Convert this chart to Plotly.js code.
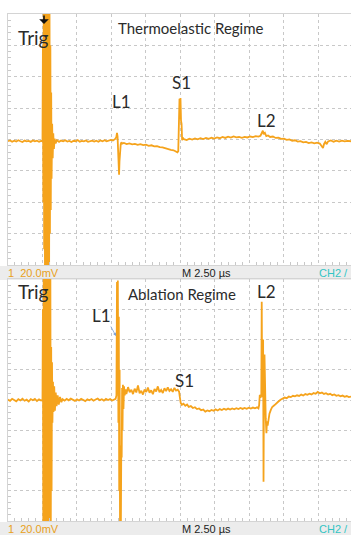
<!DOCTYPE html>
<html>
<head>
<meta charset="utf-8">
<script src="https://cdn.plot.ly/plotly-3.0.1.min.js"></script>
<style>html,body{margin:0;padding:0;background:#fff;}#chart{width:351px;height:535px;}</style>
</head>
<body>
<div id="chart"></div>
<script>
// Time axis in microseconds (2.50 us/div), voltage in mV (20.0 mV/div)
const topTime = [0.00,0.15,0.30,0.45,0.60,0.75,0.90,1.05,1.20,1.35,1.50,1.65,1.80,1.95,2.10,2.25,2.40,
 2.50,2.53,2.56,2.59,2.62,2.65,2.68,2.71,2.74,2.77,2.80,2.83,2.86,2.89,2.92,2.95,2.98,3.01,3.04,3.07,3.10,3.13,3.16,3.20,3.24,3.28,3.33,3.38,3.45,
 3.55,3.70,3.85,4.00,4.15,4.30,4.45,4.60,4.75,4.90,5.05,5.20,5.35,5.50,5.65,5.80,5.95,6.10,6.25,6.40,6.55,6.70,6.85,7.00,7.15,7.30,7.45,7.60,7.75,
 7.85,7.90,7.94,7.98,8.02,8.05,8.08,8.12,8.17,8.22,8.28,
 8.40,8.60,8.80,9.00,9.20,9.40,9.60,9.80,10.00,10.20,10.40,10.60,10.80,11.00,11.20,11.40,11.60,11.80,12.00,12.15,12.28,
 12.34,12.36,12.40,12.43,12.47,12.50,12.54,12.58,12.62,12.66,
 12.75,12.95,13.15,13.35,13.55,13.75,13.95,14.15,14.35,14.55,14.75,14.95,15.15,15.35,15.55,15.75,15.95,16.15,16.35,16.55,16.75,16.95,17.15,17.35,17.55,17.75,17.95,18.15,18.30,
 18.40,18.47,18.53,18.62,18.72,18.85,
 19.00,19.20,19.40,19.60,19.80,20.00,20.20,20.40,20.60,20.80,21.00,21.20,21.40,21.60,21.80,22.00,22.20,22.40,22.60,
 22.75,22.83,22.90,23.00,23.10,23.20,23.40,23.60,23.80,24.00,24.20,24.40,24.60,24.86];
const topVolt = [-1.0,-0.6,-1.4,-0.8,-1.3,-0.5,-1.1,-1.6,-0.7,-1.2,-0.9,-1.5,-0.6,-1.2,-0.8,-1.4,-0.9,
 -1,60,-40,92,-70,95,-92,95,-95,95,-95,95,-95,92,-92,88,-85,80,-60,60,-45,30,-25,10,-12,4,-6,0.5,-2.5,
 -0.4,-1.5,-0.7,-1.2,-0.5,-1.3,-0.9,-1.6,-0.8,-1.1,-0.4,-1.4,-0.9,-1.2,-0.6,-1.5,-1.0,-0.7,-1.3,-0.8,-1.4,-0.6,-1.1,-0.5,-1.2,-0.7,-0.3,-0.6,0.2,
 1.5,4.2,2,-8,-18,-22.5,-14,-6,-3,-1.8,-2.6,
 -2.2,-2.9,-2.5,-3.1,-2.8,-3.4,-3.0,-3.6,-3.3,-4.0,-3.7,-4.4,-4.2,-4.9,-5.0,-5.6,-5.9,-6.6,-6.9,-7.6,-8.2,
 -7.5,9,11,26,13,26.5,12,10,-0.5,1.2,
 0.2,-0.4,0.5,0.0,0.7,0.1,0.8,0.3,1.0,0.4,1.1,0.6,1.3,0.8,1.6,1.0,1.8,1.2,2.0,1.4,1.6,1.1,1.7,1.3,1.9,1.5,2.1,1.8,2.4,
 4.0,5.6,3.4,4.2,2.2,2.6,
 1.6,1.9,1.0,1.2,0.4,0.6,-0.2,0.1,-0.8,-0.5,-1.3,-1.0,-1.8,-1.5,-2.3,-1.9,-2.5,-2.0,-2.6,
 -4.0,-5.4,-3.0,-1.5,-3.0,-1.2,-0.6,-1.4,-0.8,-1.3,-0.7,-1.2,-0.9,-1.1];

const botTime = [0.00,0.15,0.30,0.45,0.60,0.75,0.90,1.05,1.20,1.35,1.50,1.65,1.80,1.95,2.10,2.25,2.40,
 2.50,2.53,2.56,2.59,2.62,2.65,2.68,2.71,2.74,2.77,2.80,2.83,2.86,2.89,2.92,2.95,2.98,3.01,3.04,3.07,3.10,
 3.13,3.16,3.19,3.22,3.26,3.30,3.35,3.40,3.46,3.52,3.60,3.68,3.77,3.87,
 3.95,4.10,4.25,4.40,4.55,4.70,4.85,5.00,5.15,5.30,5.45,5.60,5.75,5.90,6.05,6.20,6.35,6.50,6.65,6.80,6.95,7.10,7.25,7.40,7.55,7.70,7.80,
 7.86,7.90,7.93,7.96,8.00,8.03,8.06,8.09,8.12,8.15,8.18,8.21,8.24,8.27,8.30,8.33,8.37,8.41,8.46,8.52,
 8.58,8.70,8.82,8.94,9.06,9.18,9.30,9.42,9.54,9.66,9.78,9.90,10.02,10.14,10.26,10.38,10.50,10.62,10.74,10.86,10.98,11.10,11.22,11.34,11.46,11.58,11.70,11.82,11.94,12.06,12.18,12.30,
 12.40,12.46,12.52,12.60,12.72,12.85,12.98,13.10,13.25,13.40,13.55,13.70,13.85,14.00,14.15,14.30,14.45,14.60,14.75,14.90,15.05,15.20,15.35,15.50,15.65,15.80,15.95,16.10,16.25,16.40,16.55,16.70,16.85,17.00,17.15,17.30,17.45,17.60,17.75,17.90,18.05,18.15,
 18.20,18.25,18.30,18.36,18.39,18.42,18.46,18.49,18.52,18.55,18.59,18.63,18.68,18.73,18.77,18.82,18.88,18.95,19.05,19.15,19.30,19.45,19.60,19.75,19.90,
 20.05,20.20,20.35,20.50,20.65,20.80,20.95,21.10,21.25,21.40,21.55,21.70,21.85,22.00,22.15,22.30,22.45,22.60,22.75,22.90,23.05,23.20,23.35,23.50,23.65,23.80,23.95,24.10,24.25,24.40,24.55,24.70,24.86];
const botVolt = [0.3,-0.6,0.8,0.0,-0.9,0.5,-0.3,0.9,-0.5,0.2,-1.0,0.6,-0.2,0.7,-0.7,0.4,-0.4,
 0,60,-95,95,-95,95,-95,95,-95,95,-95,95,-95,95,-95,95,-95,92,-92,88,-88,
 35,-60,25,-15,12,-8,9,-7,5,-4,3,-3,2,-1.5,
 0.5,-0.4,0.7,-0.2,0.9,0.1,-0.6,0.4,-0.3,0.8,0.0,-0.7,0.5,-0.2,0.6,-0.5,0.3,0.9,-0.1,0.5,-0.4,0.7,0.0,0.6,-0.3,0.4,0.8,
 3,78,12,79,-15,55,-60,20,-85,-40,-85,-30,-38,8,-20,10,-6,9,3,7,
 4.0,8.5,5.2,6.8,3.9,7.5,5.0,9.6,4.4,6.1,3.6,7.0,5.3,8.2,4.8,6.4,3.8,7.3,5.6,9.0,5.1,6.7,4.6,7.8,5.9,8.4,6.0,7.1,5.4,8.0,6.2,6.8,
 5.5,1.5,-2.0,-3.2,-2.4,-3.8,-3.0,-4.5,-4.0,-5.3,-4.8,-6.0,-5.6,-6.8,-6.3,-7.7,-6.9,-7.4,-6.6,-7.1,-6.2,-6.9,-6.0,-6.6,-5.8,-6.4,-5.7,-6.3,-5.6,-6.1,-5.4,-6.0,-5.3,-5.9,-5.2,-5.8,-5.1,-5.6,-5.0,-5.5,-4.9,-5.6,
 -3.5,3.5,1.5,4,65,4,2,40,-54,6,30,-6,-12,-22,-14,-17,-11,-9,-6.5,-4.6,-3.5,-2.0,-1.0,0.2,0.8,
 1.6,1.2,2.3,1.9,2.8,2.4,3.1,2.7,3.6,3.0,3.9,3.4,4.2,3.7,4.6,4.1,5.3,4.4,4.9,4.0,4.5,3.6,4.1,3.2,3.7,2.8,3.2,2.4,2.9,2.1,2.6,1.9,2.3];

const topLabels = [
  {text:'Trig', x:33, y:38, size:19},
  {text:'Thermoelastic Regime', x:191, y:28, size:15},
  {text:'S1', x:181, y:82, size:17},
  {text:'L1', x:121, y:101, size:17},
  {text:'L2', x:266, y:120, size:17}
];
const botLabels = [
  {text:'Trig', x:33, y:291, size:19},
  {text:'Ablation Regime', x:182, y:294, size:15},
  {text:'L2', x:266, y:291, size:17},
  {text:'L1', x:101, y:315, size:17},
  {text:'S1', x:184, y:380, size:17}
];

const W = 351, H = 535;
const px = x => x / W;
const py = y => 1 - y / H;
const orange = '#f5a31c';
const FONT = 'Lato, "Open Sans", sans-serif';

const traces = [
  {x: topTime, y: topVolt, type:'scatter', mode:'lines', xaxis:'x', yaxis:'y',
   line:{color:orange, width:1.8}, hoverinfo:'skip', showlegend:false},
  {x: botTime, y: botVolt, type:'scatter', mode:'lines', xaxis:'x2', yaxis:'y2',
   line:{color:orange, width:1.8}, hoverinfo:'skip', showlegend:false}
];

function xax(anchor){
  return {domain:[px(8),1], range:[0,24.86], anchor:anchor, dtick:2.5, tick0:0,
    showgrid:true, gridcolor:'#c8c8c8', griddash:'dot', gridwidth:1,
    zeroline:false, showticklabels:false, ticks:'inside', ticklen:0,
    showline:true, linecolor:'#d4d4d4', linewidth:1, mirror:true,
    minor:{dtick:0.5, ticks:'inside', ticklen:3, tickcolor:'#c8c8c8', showgrid:false},
    fixedrange:true};
}
function yax(dom, anchor){
  return {domain:dom, range:[-80,80], anchor:anchor, dtick:20, tick0:0,
    showgrid:true, gridcolor:'#c8c8c8', griddash:'dot', gridwidth:1,
    zeroline:false, showticklabels:false, ticks:'inside', ticklen:0,
    showline:true, linecolor:'#d4d4d4', linewidth:1, mirror:true,
    minor:{dtick:4, ticks:'inside', ticklen:3, tickcolor:'#c8c8c8', showgrid:false},
    fixedrange:true};
}

const annotations = [];
topLabels.concat(botLabels).forEach(l => annotations.push({
  xref:'paper', yref:'paper', x:px(l.x), y:py(l.y), text:l.text, showarrow:false,
  xanchor:'center', yanchor:'middle', font:{family:FONT, size:l.size, color:'#2b2b2b'}
}));
// scope status rows
[273, 529].forEach(yy => {
  annotations.push({xref:'paper', yref:'paper', x:px(6), y:py(yy), text:'1  20.0mV', showarrow:false,
    xanchor:'left', yanchor:'middle', font:{family:'Arial, "Liberation Sans", sans-serif', size:11, color:'#e8a020'}});
  annotations.push({xref:'paper', yref:'paper', x:px(180), y:py(yy), text:'M 2.50 µs', showarrow:false,
    xanchor:'left', yanchor:'middle', font:{family:'Arial, "Liberation Sans", sans-serif', size:11, color:'#222'}});
  annotations.push({xref:'paper', yref:'paper', x:px(350), y:py(yy), text:'CH2 /', showarrow:false,
    xanchor:'right', yanchor:'middle', font:{family:'Arial, "Liberation Sans", sans-serif', size:11, color:'#33c4c4'}});
});
// trigger arrow
annotations.push({xref:'paper', yref:'paper', x:px(44), y:py(24), text:'', showarrow:true,
  ax:0, ay:-10, arrowhead:1, arrowsize:1, arrowwidth:1.6, arrowcolor:'#111'});
// L1 pointer (bottom panel)
annotations.push({xref:'paper', yref:'paper', x:px(116), y:py(336), text:'', showarrow:true,
  ax:-6, ay:-11, arrowhead:2, arrowsize:0.8, arrowwidth:0.8, arrowcolor:'#7a9fd4'});

const layout = {
  width:W, height:H, margin:{l:0,r:0,t:0,b:0},
  paper_bgcolor:'#ffffff', plot_bgcolor:'#ffffff', showlegend:false,
  xaxis: xax('y'),
  yaxis: yax([py(265), py(14)], 'x'),
  xaxis2: xax('y2'),
  yaxis2: yax([py(521), py(279)], 'x2'),
  shapes:[
    {type:'rect', xref:'paper', yref:'paper', x0:0, x1:1, y0:py(280), y1:py(266), fillcolor:'#ececec', line:{width:0}, layer:'below'},
    {type:'rect', xref:'paper', yref:'paper', x0:0, x1:1, y0:0, y1:py(522), fillcolor:'#ececec', line:{width:0}, layer:'below'}
  ],
  annotations: annotations
};

Plotly.newPlot('chart', traces, layout, {staticPlot:true, displayModeBar:false});
</script>
</body>
</html>
